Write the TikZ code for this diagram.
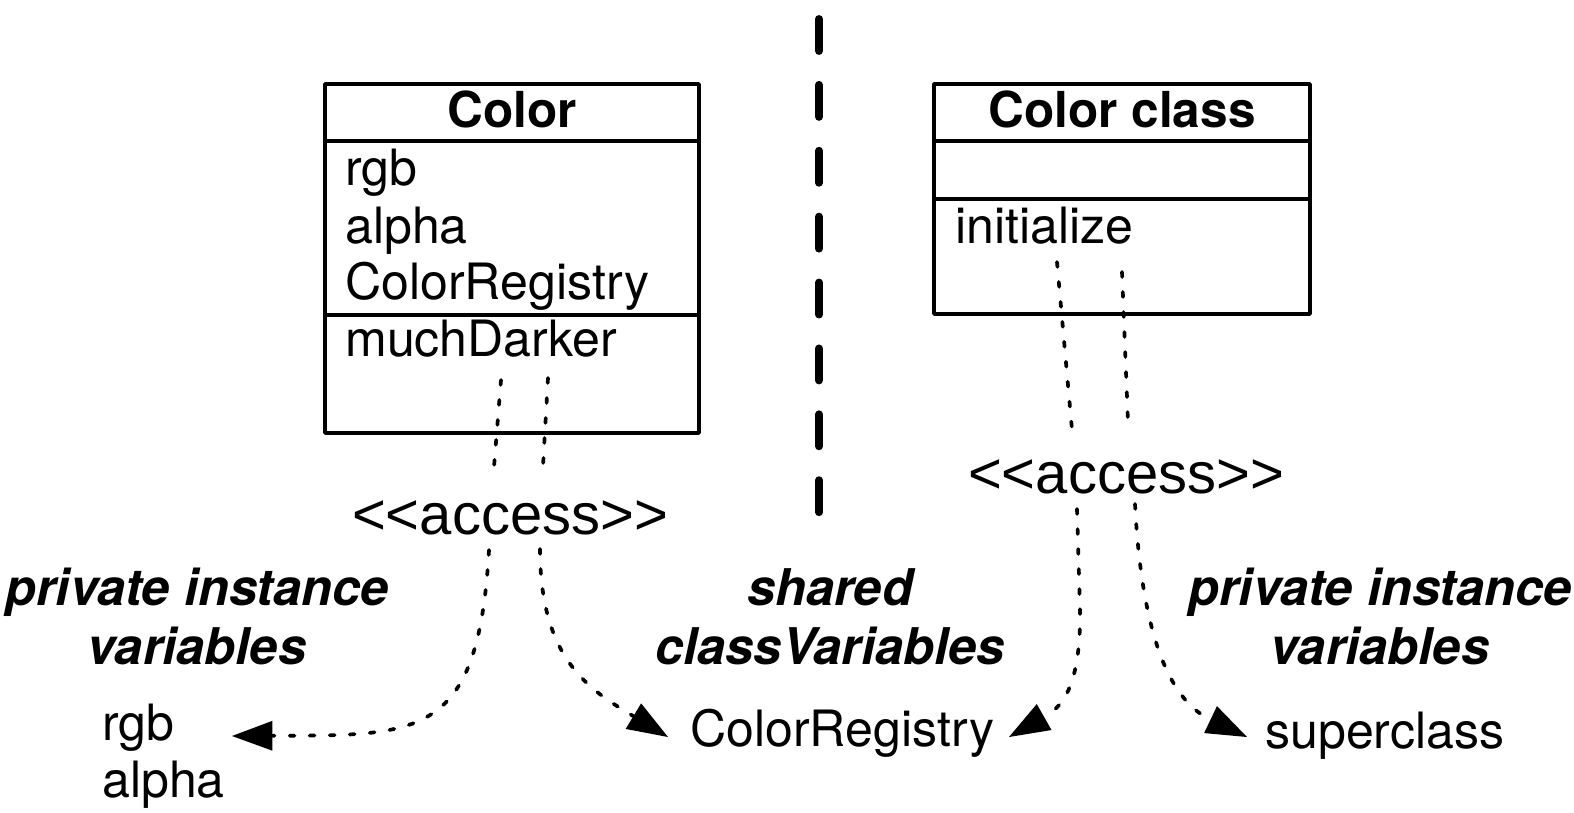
\documentclass[tikz,border=0pt]{standalone}
\usepackage{fontspec}
\setmainfont{TeX Gyre Heros}[Ligatures=TeXOff]
\newfontfamily\stereofont{Liberation Sans}[Ligatures=TeXOff]
\usetikzlibrary{arrows.meta}
\tikzset{
  boxline/.style={line width=2.1pt},
  member/.style={anchor=base west,inner sep=0pt,font=\fontsize{28.5}{31.9}\selectfont},
  classname/.style={anchor=base,inner sep=0pt,font=\fontsize{28.2}{30}\bfseries\selectfont},
  stereo/.style={anchor=base,inner sep=0pt,font=\stereofont\fontsize{33}{36}\selectfont},
  kindlabel/.style={anchor=base,align=center,inner sep=0pt,font=\fontsize{28.8}{33.5}\bfseries\itshape\selectfont},
  access/.style={line width=2.1pt,dash pattern=on 2.8pt off 8.6pt},
  accesstip/.style={access,-{Triangle[length=23pt,width=17pt,line width=0pt]}}
}
\begin{document}
\begin{tikzpicture}[x=0.02cm,y=-0.02cm,line cap=round,line join=round]
  \useasboundingbox (0,0) rectangle (1574,812);
  % divider
  \draw[line width=4.5pt,dash pattern=on 18.2pt off 19.3pt] (819,19) -- (819,513);
  % Color
  \draw[boxline] (325,84) rectangle (699,433);
  \draw[boxline] (325,141) -- (699,141);
  \draw[boxline] (325,315) -- (699,315);
  \node[classname] (color) at (512,127) {Color};
  \node[member] (rgbvar) at (345,185) {rgb};
  \node[member] (alphavar) at (345,243) {alpha};
  \node[member] (registryvar) at (345,299) {ColorRegistry};
  \node[member] (darker) at (345,356) {muchDarker};
  % Color class
  \draw[boxline] (934,84) rectangle (1310,314);
  \draw[boxline] (934,141) -- (1310,141);
  \draw[boxline] (934,199) -- (1310,199);
  \node[classname] (colorclass) at (1122,127) {Color class};
  \node[member] (init) at (955,243) {initialize};
  % stereotypes
  \node[stereo] (accleft) at (510,534) {<<access>>};
  \node[stereo] (accright) at (1126,493) {<<access>>};
  \coordinate (dl1) at (501,380);
  \coordinate (dl2) at (548,378);
  \coordinate (al1) at (494,467);
  \coordinate (al2) at (543,466);
  \coordinate (dr1) at (1057,262);
  \coordinate (dr2) at (1122,272);
  \coordinate (ar1) at (1072,430);
  \coordinate (ar2) at (1128,423);
  \draw[access] (dl1) -- (al1);
  \draw[access] (dl2) -- (al2);
  \draw[access] (dr1) -- (ar1);
  \draw[access] (dr2) -- (ar2);
  % targets
  \node[kindlabel] (privleft) at (197,664) {private instance\\variables};
  \node[kindlabel] (shared) at (830,664) {shared\\classVariables};
  \node[kindlabel] (privright) at (1380,664) {private instance\\variables};
  \node[member,align=left] (instvars) at (102,797) {rgb\\alpha};
  \node[member] (registry) at (690,746) {ColorRegistry};
  \node[member] (super) at (1265,748) {superclass};
  \coordinate (sl1) at (489,550);
  \coordinate (sl2) at (540,549);
  \coordinate (sr1) at (1077,509);
  \coordinate (sr2) at (1135,504);
  \coordinate (tipvars) at (232,736);
  \coordinate (tipreg) at (668,737);
  \coordinate (tipreg2) at (1009,737);
  \coordinate (tipsuper) at (1247,737);
  \draw[accesstip] (sl1) .. controls (478,740) and (420,735) .. (tipvars);
  \draw[accesstip] (sl2) .. controls (540,660) and (590,690) .. (tipreg);
  \draw[accesstip] (sr1) -- (1080,610) .. controls (1081,690) and (1060,708) .. (tipreg2);
  \draw[accesstip] (sr2) .. controls (1143,660) and (1180,705) .. (tipsuper);
\end{tikzpicture}
\end{document}
